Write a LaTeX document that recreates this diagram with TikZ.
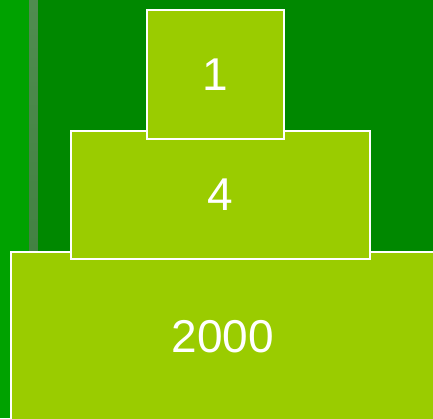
\documentclass[tikz,border=0pt]{standalone}
\usepackage{fontspec}
\setmainfont{Liberation Sans}
\definecolor{boxgreen}{RGB}{154,204,0}
\definecolor{darkbg}{RGB}{0,136,0}
\definecolor{brightbg}{RGB}{0,162,0}
\definecolor{bartop}{RGB}{80,140,80}
\definecolor{barbot}{RGB}{58,122,58}
\begin{document}
\begin{tikzpicture}[x=1pt,y=-1pt,
  tier/.style={draw=white, line width=2pt, fill=boxgreen, text=white,
    font=\fontsize{46}{46}\selectfont, inner sep=0pt, anchor=center}]
\useasboundingbox (0,0) rectangle (433,418);
\clip (0,0) rectangle (433,418);
\fill[brightbg] (0,0) rectangle (29,418);
\shade[top color=bartop, bottom color=barbot] (29,0) rectangle (38,418);
\fill[darkbg] (38,0) rectangle (433,418);
\node[tier, minimum width=424pt, minimum height=169pt] (t3) at (223,336.5) {2000};
\node[tier, minimum width=299pt, minimum height=128pt] (t2) at (220.5,195) {4};
\node[tier, minimum width=137pt, minimum height=129pt] (t1) at (215.5,74.5) {1};
\end{tikzpicture}
\end{document}
